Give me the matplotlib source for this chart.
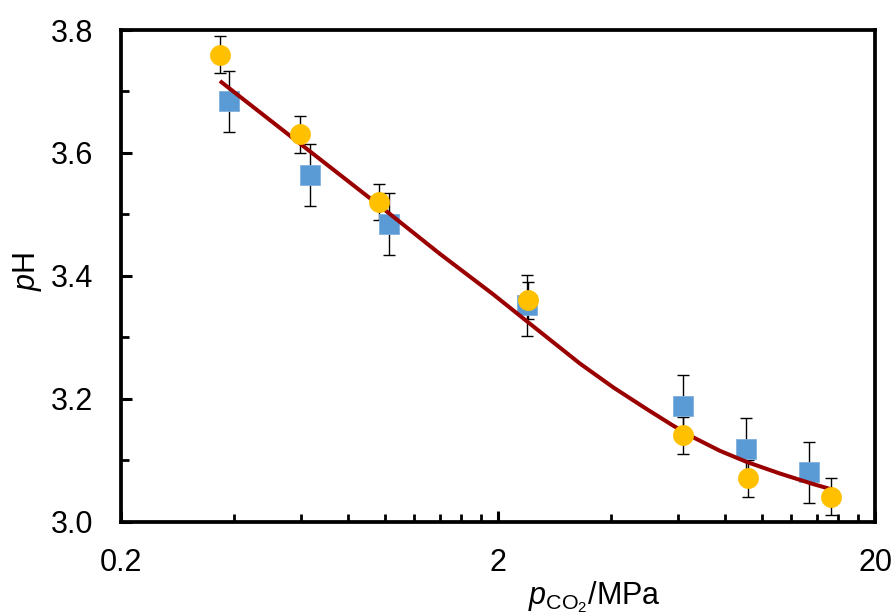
import matplotlib
matplotlib.use("Agg")
import matplotlib.pyplot as plt
from matplotlib.ticker import FixedLocator, NullFormatter, FixedFormatter

plt.rcParams['font.family'] = ['Liberation Sans', 'DejaVu Sans']
plt.rcParams['mathtext.fontset'] = 'custom'
plt.rcParams['mathtext.rm'] = 'Liberation Sans'
plt.rcParams['mathtext.it'] = 'Liberation Sans:italic'

# Data
orange_x = [0.366, 0.597, 0.966, 2.40, 6.18, 9.2, 15.3]
orange_y = [3.76, 3.63, 3.52, 3.36, 3.14, 3.07, 3.04]
orange_err = [0.03, 0.03, 0.03, 0.03, 0.03, 0.03, 0.03]

blue_x = [0.387, 0.634, 1.03, 2.39, 6.18, 9.1, 13.4]
blue_y = [3.684, 3.564, 3.484, 3.352, 3.188, 3.118, 3.080]
blue_err = [0.05, 0.05, 0.05, 0.05, 0.05, 0.05, 0.05]

curve_x = [0.366, 0.60, 0.97, 1.40, 1.94, 2.43, 3.30, 4.05, 4.96, 5.83,
           6.59, 7.76, 9.13, 11.2, 13.7, 15.4]
curve_y = [3.717, 3.614, 3.514, 3.436, 3.370, 3.322, 3.257, 3.218, 3.183, 3.156,
           3.137, 3.115, 3.097, 3.078, 3.061, 3.052]

x_major = [0.2, 2, 20]
x_major_labels = ['0.2', '2', '20']
y_major = [3.0, 3.2, 3.4, 3.6, 3.8]
y_major_labels = ['3.0', '3.2', '3.4', '3.6', '3.8']

fig = plt.figure(figsize=(8.93, 6.15), dpi=100)
ax = fig.add_axes([121/893, 1-521.5/615, 754/893, 491.5/615])

ax.set_xscale('log')
ax.set_xlim(0.2, 20)
ax.set_ylim(3.0, 3.8)

# error bars
ax.errorbar(blue_x, blue_y, yerr=blue_err, fmt='none', ecolor='black',
            elinewidth=1.0, capsize=4.3, capthick=1.0, zorder=2)
ax.errorbar(orange_x, orange_y, yerr=orange_err, fmt='none', ecolor='black',
            elinewidth=1.0, capsize=4.3, capthick=1.0, zorder=2)

# markers and fitted curve
ax.plot(blue_x, blue_y, linestyle='none', marker='s', markersize=14,
        markerfacecolor='#5B9BD5', markeredgecolor='#7FB0DE', markeredgewidth=0.6, zorder=3)
ax.plot(curve_x, curve_y, color='#9B0000', linewidth=2.9, solid_capstyle='butt',
        solid_joinstyle='round', zorder=4)
ax.plot(orange_x, orange_y, linestyle='none', marker='o', markersize=14.5,
        markerfacecolor='#FFC000', markeredgecolor='#FFC000', markeredgewidth=0.5, zorder=5)

# ticks
ax.xaxis.set_major_locator(FixedLocator(x_major))
ax.xaxis.set_major_formatter(FixedFormatter(x_major_labels))
minors = [0.2 * k for k in range(2, 10)] + [2 * k for k in range(2, 10)]
ax.xaxis.set_minor_locator(FixedLocator(minors))
ax.xaxis.set_minor_formatter(NullFormatter())

ax.yaxis.set_major_locator(FixedLocator(y_major))
ax.yaxis.set_major_formatter(FixedFormatter(y_major_labels))
ax.yaxis.set_minor_locator(FixedLocator([3.1, 3.3, 3.5, 3.7]))
ax.yaxis.set_minor_formatter(NullFormatter())

ax.tick_params(axis='both', which='major', direction='in', length=8, width=2.2,
               labelsize=22, colors='black')
ax.tick_params(axis='both', which='minor', direction='in', length=5.5, width=2.0)
ax.tick_params(axis='x', which='major', pad=19)
ax.tick_params(axis='y', which='major', pad=20)
ax.tick_params(top=False, right=False, which='both')

for s in ax.spines.values():
    s.set_linewidth(2.7)
    s.set_color('black')

ax.set_xlabel(r'$\mathit{p}_{\mathrm{CO_2}}$/MPa', fontsize=22)
ax.xaxis.label.set_va('baseline')
ax.xaxis.set_label_coords((594-121)/754, -(604-521.5)/491.5)

ax.set_ylabel(r'$\mathit{p}$H', fontsize=22)
ax.yaxis.label.set_va('center')
ax.yaxis.set_label_coords((27-121)/754, 0.5 + (275.5-271)/491.5)

fig.savefig('out.png', dpi=100)
